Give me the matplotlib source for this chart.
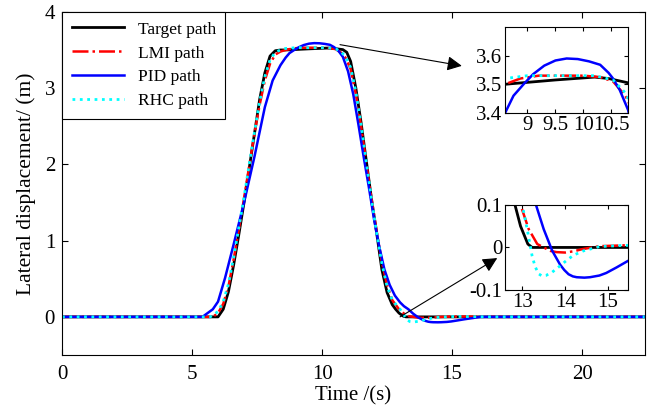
import numpy as np
import matplotlib.pyplot as plt

plt.switch_backend('Agg')
plt.rcParams['font.family'] = ['Liberation Serif', 'DejaVu Serif']
plt.rcParams['axes.unicode_minus'] = False

# --- dados ---
t_target = [0, 6.0, 6.2, 6.4, 6.6, 6.8, 7.0, 7.2, 7.4, 7.6, 7.8, 8.0, 8.2, 8.4, 8.6, 9.2, 9.5,
            10.2, 10.45, 10.8, 10.95, 11.1, 11.3, 11.5, 11.7, 11.9, 12.1, 12.3, 12.5, 12.7,
            12.83, 12.96, 13.13, 13.23, 22.4]
y_target = [0, 0, 0.1, 0.33, 0.68, 1.08, 1.5, 1.95, 2.4, 2.85, 3.2, 3.42, 3.49, 3.5, 3.5, 3.51, 3.515,
            3.525, 3.52, 3.505, 3.47, 3.35, 3.0, 2.55, 2.05, 1.55, 1.1, 0.62, 0.32, 0.16,
            0.1, 0.05, 0.008, 0, 0]

t_lmi = [0, 5.8, 6.0, 6.2, 6.4, 6.6, 6.8, 7.0, 7.2, 7.4, 7.6, 7.8, 8.0, 8.2, 8.4, 8.6, 8.87, 9.2,
         10.0, 10.3, 10.53, 10.75, 10.9, 11.1, 11.3, 11.5, 11.7, 11.9, 12.1, 12.3, 12.5, 12.7,
         12.96, 13.15, 13.35, 13.5, 13.65, 13.8, 14.0, 14.2, 14.4, 14.8, 15.4, 16.0, 17.0, 22.4]
y_lmi = [0, 0, 0.05, 0.17, 0.4, 0.75, 1.15, 1.55, 1.98, 2.4, 2.78, 3.1, 3.32, 3.44, 3.48, 3.5, 3.52, 3.53,
         3.53, 3.525, 3.51, 3.46, 3.4, 3.25, 2.92, 2.5, 2.02, 1.55, 1.12, 0.72, 0.42, 0.22,
         0.1, 0.043, 0.008, 0.0, -0.008, -0.011, -0.012, -0.009, -0.004, 0.003, 0.005, 0.002, 0, 0]

t_pid = [0, 5.4, 5.8, 6.0, 6.27, 6.6, 7.0, 7.4, 7.8, 8.1, 8.4, 8.6, 8.75, 8.93, 9.1, 9.3, 9.5,
         9.7, 9.9, 10.1, 10.3, 10.45, 10.53, 10.65, 10.8, 11.0, 11.2, 11.4, 11.6, 11.8, 12.0,
         12.2, 12.4, 12.6, 12.8, 13.0, 13.15, 13.32, 13.5, 13.7, 13.88, 13.98, 14.08, 14.18,
         14.27, 14.45, 14.58, 14.8, 14.96, 15.2, 15.46, 15.8, 16.1, 22.4]
y_pid = [0, 0, 0.1, 0.2, 0.51, 0.95, 1.5, 2.1, 2.75, 3.1, 3.3, 3.4, 3.46, 3.5, 3.535, 3.565, 3.583,
         3.59, 3.588, 3.58, 3.568, 3.54, 3.52, 3.48, 3.41, 3.22, 2.92, 2.52, 2.1, 1.7, 1.28,
         0.92, 0.62, 0.42, 0.28, 0.19, 0.14, 0.1, 0.043, -0.008, -0.04, -0.053, -0.063, -0.068,
         -0.07, -0.071, -0.07, -0.066, -0.06, -0.047, -0.032, -0.015, 0, 0]

t_rhc = [0, 5.7, 6.0, 6.2, 6.4, 6.6, 6.8, 7.0, 7.2, 7.4, 7.6, 7.8, 8.0, 8.2, 8.4, 8.6, 9.0,
         10.2, 10.53, 10.75, 10.9, 11.1, 11.3, 11.5, 11.7, 11.9, 12.1, 12.3, 12.5, 12.7,
         13.0, 13.13, 13.23, 13.3, 13.38, 13.46, 13.55, 13.7, 13.85, 14.04, 14.2, 14.43, 14.8,
         15.4, 16.0, 17.0, 22.4]
y_rhc = [0, 0, 0.07, 0.2, 0.43, 0.78, 1.17, 1.57, 2.0, 2.42, 2.82, 3.15, 3.37, 3.47, 3.5, 3.52, 3.53,
         3.53, 3.515, 3.47, 3.41, 3.27, 2.95, 2.52, 2.03, 1.55, 1.1, 0.7, 0.4, 0.22,
         0.1, 0.035, -0.02, -0.045, -0.062, -0.067, -0.066, -0.058, -0.046, -0.03, -0.018, -0.008, 0.002,
         0.005, 0.002, 0, 0]

series = [
    (t_target, y_target, 'Target path', dict(color='k', ls='-', lw=2.0)),
    (t_lmi, y_lmi, 'LMI path', dict(color='red', ls='-.', lw=1.8)),
    (t_pid, y_pid, 'PID path', dict(color='blue', ls='-', lw=1.8)),
    (t_rhc, y_rhc, 'RHC path', dict(color='cyan', ls=':', lw=2.0)),
]

fig = plt.figure(figsize=(6.56, 4.09), dpi=100)
ax = fig.add_axes([0.0945, 0.132, 0.888, 0.839])

for t, y, nome, estilo in series:
    ax.plot(t, y, label=nome, **estilo)

ax.set_xlim(0, 22.4)
ax.set_ylim(-0.5, 4)
ax.set_xticks([0, 5, 10, 15, 20])
ax.set_yticks([0, 1, 2, 3, 4])
ax.tick_params(direction='in', top=True, right=True, labelsize=15, length=4, pad=5)
ax.tick_params(axis='x', pad=7)
ax.set_xlabel('Time /(s)', fontsize=15, labelpad=2)
ax.set_ylabel('Lateral displacement/ (m)', fontsize=15.5, labelpad=6)

leg = ax.legend(loc='upper left', borderaxespad=0, fancybox=False, edgecolor='k',
                framealpha=1, fontsize=12.5, handlelength=3.0, labelspacing=0.45,
                borderpad=0.55)
leg.get_frame().set_linewidth(0.8)

# --- detalhes ampliados ---
ax_top = fig.add_axes([0.770, 0.724, 0.1875, 0.210])
ax_bot = fig.add_axes([0.770, 0.291, 0.1875, 0.208])
for sub in (ax_top, ax_bot):
    for t, y, nome, estilo in series:
        sub.plot(t, y, **estilo)
    sub.tick_params(direction='in', top=True, right=True, labelsize=15, length=3, pad=2)

ax_top.set_xlim(8.6, 10.8)
ax_top.set_ylim(3.4, 3.7)
ax_top.set_xticks([9, 9.5, 10, 10.5])
ax_top.set_xticklabels(['9', '9.5', '10', '10.5'])
ax_top.set_yticks([3.4, 3.5, 3.6])
ax_top.set_yticklabels(['3.4', '3.5', '3.6'])

ax_bot.set_xlim(12.6, 15.47)
ax_bot.set_ylim(-0.1, 0.1)
ax_bot.set_xticks([13, 14, 15])
ax_bot.set_yticks([-0.1, 0, 0.1])
ax_bot.set_yticklabels(['-0.1', '0', '0.1'])

# setas
ax.annotate('', xy=(0.704, 0.839), xycoords='figure fraction',
            xytext=(10.69, 3.57), textcoords='data',
            arrowprops=dict(arrowstyle='-|>', color='k', lw=0.8, mutation_scale=22,
                            shrinkA=0, shrinkB=0))
ax.annotate('', xy=(0.758, 0.369), xycoords='figure fraction',
            xytext=(13.0, 0.0), textcoords='data',
            arrowprops=dict(arrowstyle='-|>', color='k', lw=0.8, mutation_scale=22,
                            shrinkA=0, shrinkB=0))

fig.savefig('out.png', dpi=100)
